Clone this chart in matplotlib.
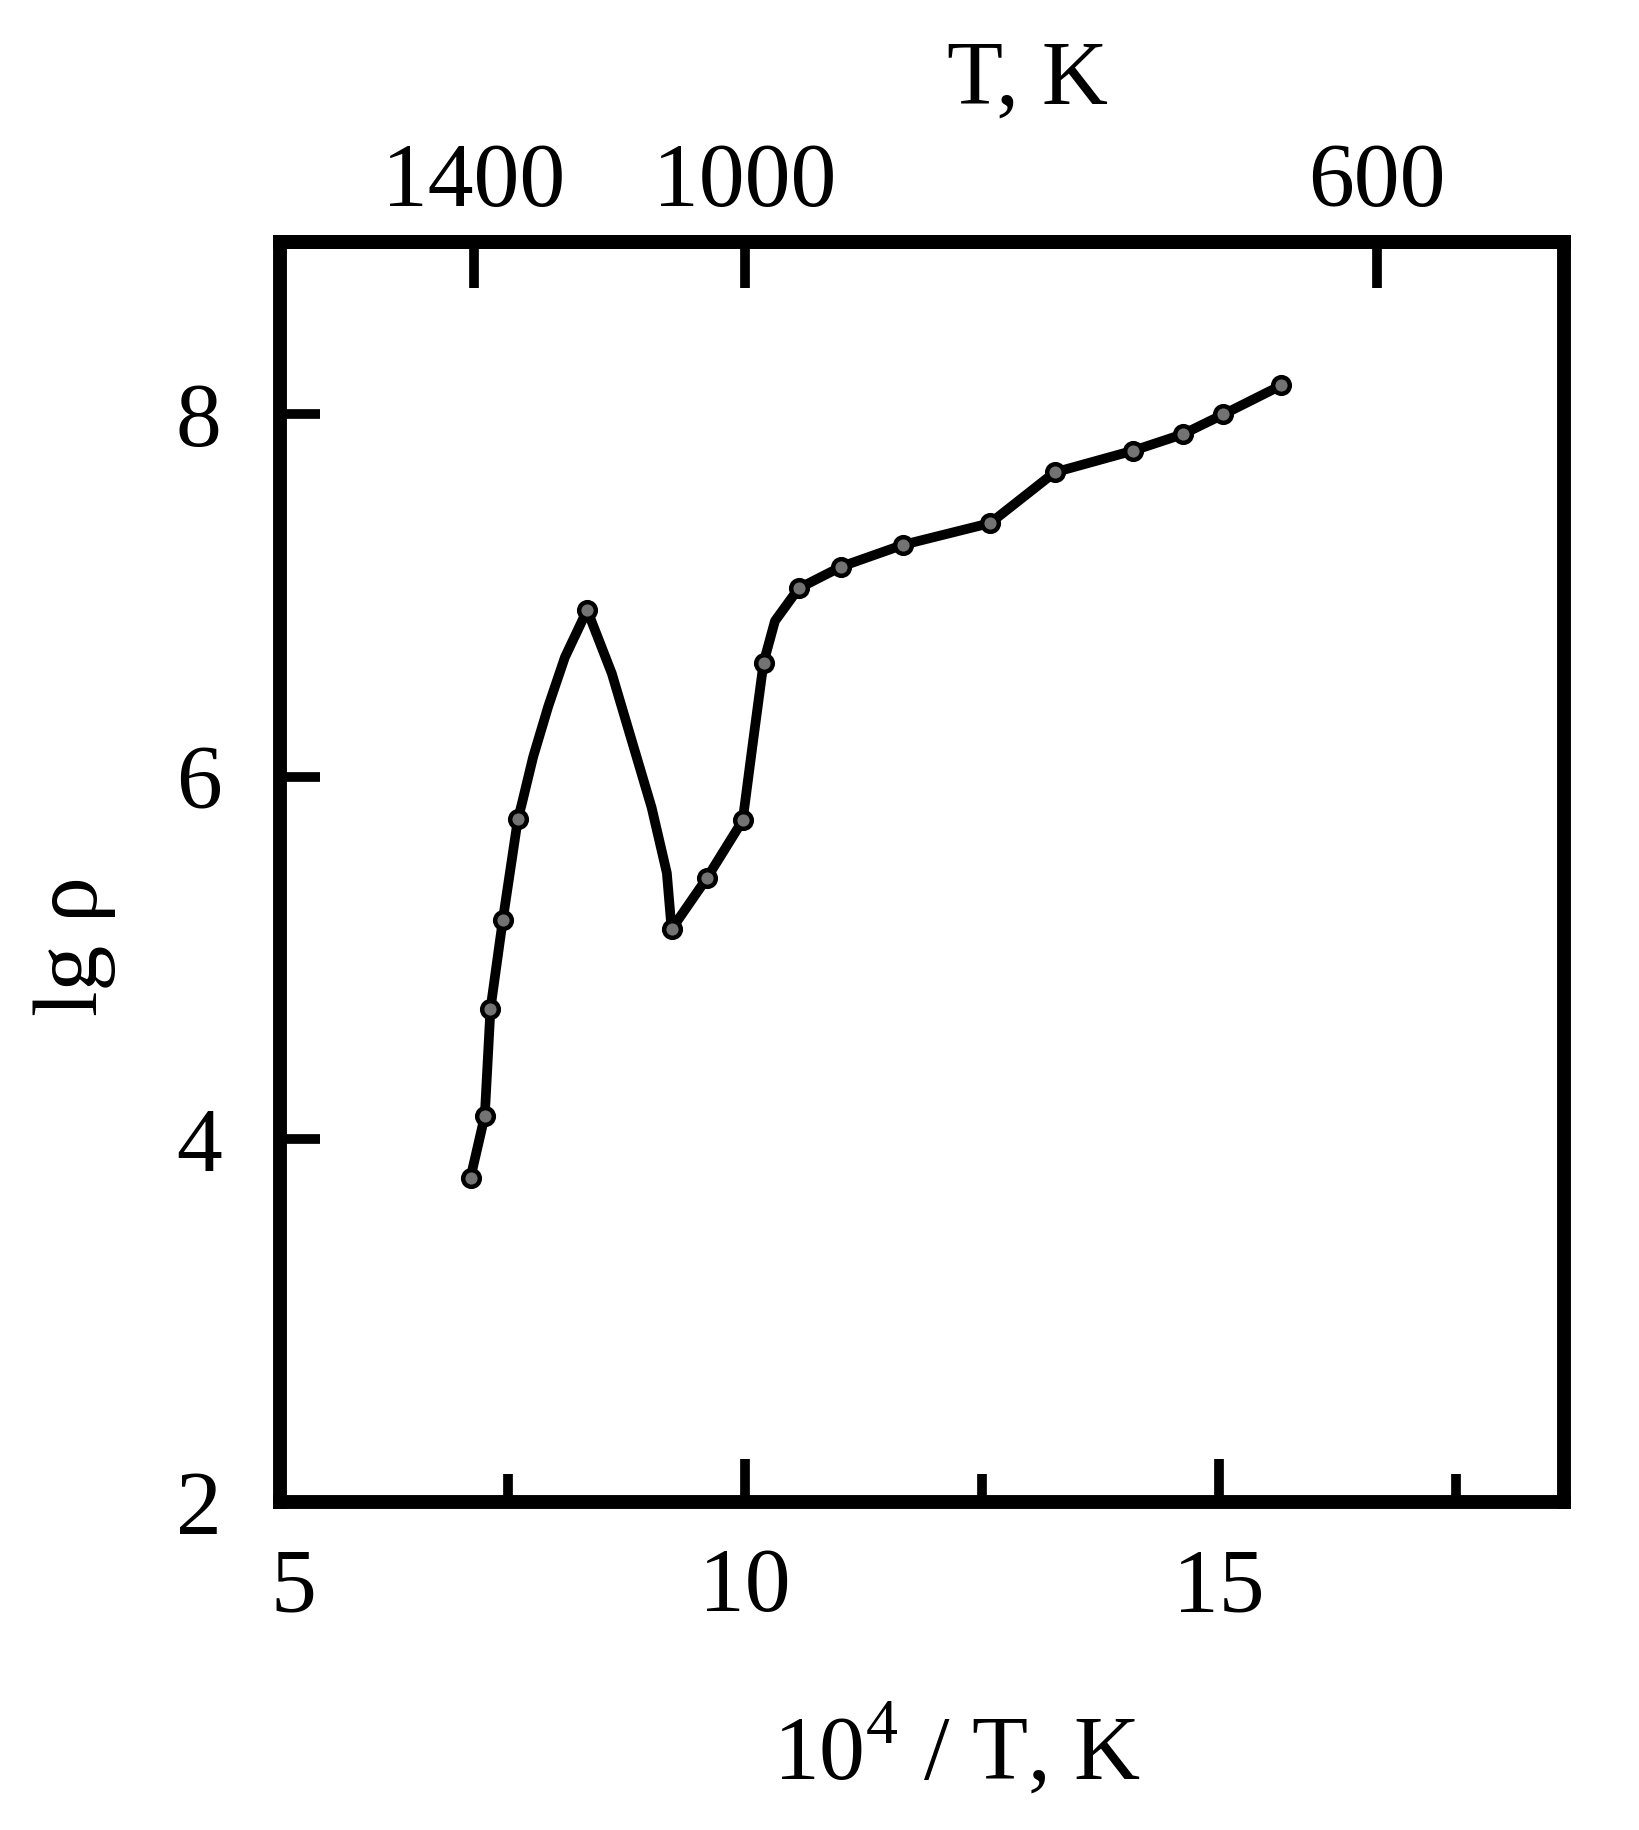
import matplotlib
matplotlib.use("Agg")
import matplotlib.pyplot as plt

# points: 10^4/T and lg(rho)
x_pts = [7.11, 7.26, 7.32, 7.45, 7.61, 8.34, 9.23, 9.60, 9.98, 10.20,
         10.57, 11.02, 11.67, 12.59, 13.27, 14.10, 14.62, 15.05, 15.66]
y_pts = [3.79, 4.13, 4.72, 5.21, 5.77, 6.92, 5.16, 5.44, 5.76, 6.63,
         7.04, 7.16, 7.28, 7.40, 7.68, 7.80, 7.89, 8.00, 8.16]

# drawn curve (through the points plus the bends)
x_curve = [7.11, 7.26, 7.32, 7.45, 7.61, 7.65, 7.77, 7.93, 8.105, 8.34,
           8.60, 8.81, 9.02, 9.18, 9.23, 9.60, 9.98, 10.08, 10.20, 10.32,
           10.57, 11.02, 11.67, 12.59, 13.27, 14.10, 14.62, 15.05, 15.66]
y_curve = [3.79, 4.13, 4.72, 5.21, 5.77, 5.85, 6.11, 6.39, 6.66, 6.92,
           6.57, 6.20, 5.83, 5.47, 5.16, 5.44, 5.76, 6.16, 6.63, 6.86,
           7.04, 7.16, 7.28, 7.40, 7.68, 7.80, 7.89, 8.00, 8.16]

x_major = [10, 15]
x_minor = [7.5, 12.5, 17.5]
y_ticks = [2, 4, 6, 8]
t_ticks = [1400, 1000, 600]

plt.rcParams["font.family"] = ["Liberation Serif", "DejaVu Serif"]
plt.rcParams["mathtext.fontset"] = "custom"
plt.rcParams["mathtext.rm"] = "Liberation Serif"

fig = plt.figure(figsize=(16.39, 18.30), dpi=100)
ax = fig.add_axes([0.1708, 0.1792, 0.7834, 0.6885])

ax.plot(x_curve, y_curve, color="black", lw=7, solid_capstyle="round",
        solid_joinstyle="round")
ax.plot(x_pts, y_pts, ls="none", marker="o", ms=12, mfc="0.45", mec="black",
        mew=3.2)

ax.set_xlim(5.1, 18.64)
ax.set_ylim(2, 8.95)

for s in ax.spines.values():
    s.set_linewidth(10)

fs = 66
ax.set_xticks(x_major)
ax.set_xticks(x_minor, minor=True)
ax.set_yticks(y_ticks)
ax.tick_params(axis="x", which="major", direction="in", length=31, width=7,
               labelsize=fs, pad=33, top=False)
ax.tick_params(axis="x", which="minor", direction="in", length=20, width=7,
               top=False)
ax.tick_params(axis="y", direction="in", length=29, width=7, labelsize=fs,
               pad=42, right=False)
ax.yaxis.get_major_ticks()[0].tick1line.set_visible(False)
# the "5" sits at the left frame edge in the original
ax.annotate("5", xy=(0, 0), xycoords="axes fraction", xytext=(10, -33),
            textcoords="offset points", ha="center", va="top", fontsize=fs)

ax.set_xlabel("10$^{4}$ / T, K", fontsize=fs, labelpad=52, x=0.527)
ax.set_ylabel("lg ρ", fontsize=fs, labelpad=43, y=0.441)

top = ax.secondary_xaxis("top", functions=(lambda v: 1e4 / v, lambda v: 1e4 / v))
top.set_xticks(t_ticks)
top.tick_params(direction="in", length=33, width=7, labelsize=fs, pad=12)
top.spines["top"].set_linewidth(10)
top.set_xlabel("T, K", fontsize=fs, labelpad=28, x=0.582)

fig.savefig("out.png", dpi=100, facecolor="white")
